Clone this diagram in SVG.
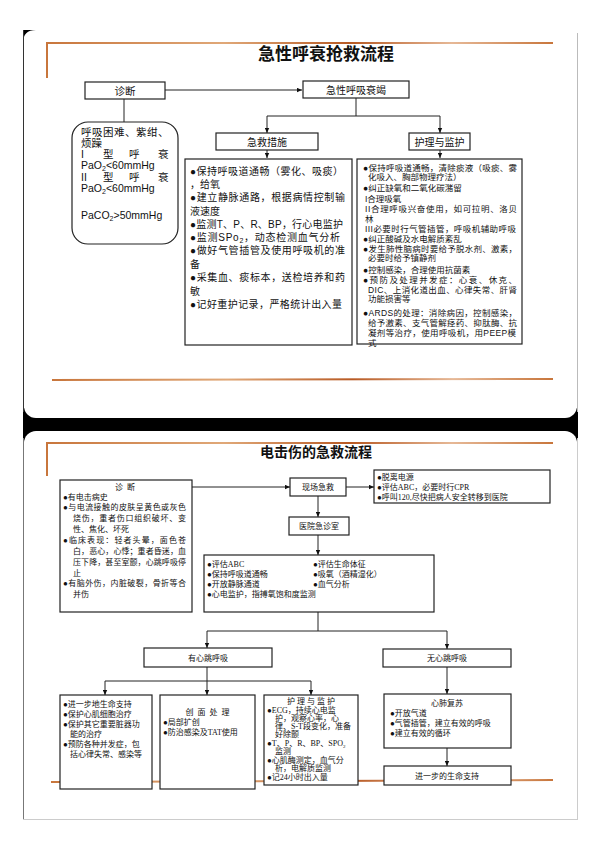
<svg xmlns="http://www.w3.org/2000/svg" width="595" height="841" viewBox="0 0 595 841">
<defs>
<style>
.box{fill:#fff;stroke:#222;stroke-width:1.2}
.t{font-family:"Liberation Sans","Noto Sans CJK SC",sans-serif;fill:#111}
.s{font-family:"Liberation Serif","Noto Sans CJK SC",serif;fill:#111;font-size:8px}
.c{stroke:#222;stroke-width:1;fill:none}
.a{stroke:#222;stroke-width:1;fill:none;marker-end:url(#ah)}
.or{stroke:url(#og);stroke-width:2;fill:none}
.ttl{font-family:"Noto Sans CJK SC",sans-serif;font-weight:700;fill:#111;text-anchor:middle}
.m{text-anchor:middle}
</style>
<marker id="ah" viewBox="0 0 8 8" refX="8" refY="4" markerWidth="5" markerHeight="5" orient="auto"><path d="M0,0.5 L8,4 L0,7.5 Z" fill="#111"/></marker>
<linearGradient id="og" x1="0" y1="0" x2="1" y2="0">
<stop offset="0" stop-color="#c8763c"/>
<stop offset="0.35" stop-color="#e0a878"/>
<stop offset="0.6" stop-color="#b85a24"/>
<stop offset="0.8" stop-color="#e6b896"/>
<stop offset="1" stop-color="#c8763c"/>
</linearGradient>
</defs>
<rect width="595" height="841" fill="#fff"/>
<g id="frame">
<path d="M23,30 H36 Q23,30 23,43 Z" fill="#000"/>
<rect x="23" y="408" width="555" height="34" fill="#000"/>
<rect x="24" y="300" width="553" height="118" rx="12" fill="#fff"/>
<rect x="24" y="431" width="553" height="120" rx="12" fill="#fff"/>
<line x1="23.5" y1="30" x2="23.5" y2="412" stroke="#333" stroke-width="1"/>
<line x1="577.5" y1="33" x2="577.5" y2="412" stroke="#bbb" stroke-width="1"/>
<line x1="23.5" y1="438" x2="23.5" y2="819" stroke="#777" stroke-width="1"/>
<line x1="577.5" y1="438" x2="577.5" y2="819" stroke="#ccc" stroke-width="1"/>
<line x1="23" y1="819.5" x2="578" y2="819.5" stroke="#ccc" stroke-width="1"/>
</g>
<g id="slide1-deco">
<path class="or" d="M47,78 V43 H553"/>
<line class="or" x1="52" y1="380" x2="553" y2="379"/>
<text class="ttl" x="326" y="60" font-size="17">急性呼衰抢救流程</text>
</g>
<g id="connectors1">
<line class="a" x1="165" y1="90" x2="302" y2="90"/>
<line class="c" x1="124" y1="99" x2="124" y2="123"/>
<line class="c" x1="356" y1="98" x2="356" y2="116"/>
<line class="c" x1="267" y1="116" x2="440" y2="116"/>
<line class="a" x1="267" y1="116" x2="267" y2="133"/>
<line class="a" x1="440" y1="116" x2="440" y2="133"/>
<line class="a" x1="267" y1="150" x2="267" y2="158"/>
<line class="a" x1="440" y1="150" x2="440" y2="158"/>
</g>
<g id="n-zhenduan1">
<rect class="box" x="85" y="82" width="80" height="17"/>
<text class="t m" x="125" y="94.5" font-size="10.5">诊断</text>
</g>
<g id="n-jixing">
<rect class="box" x="303" y="81" width="106" height="17"/>
<text class="t m" x="356" y="93.5" font-size="10">急性呼吸衰竭</text>
</g>
<g id="n-criteria">
<rect class="box" x="72" y="122" width="106" height="122" rx="16"/>
<g class="t" font-size="10.5">
<text x="81" y="136" letter-spacing="0.5">呼吸困难、紫绀、</text>
<text x="81" y="147">烦躁</text>
<text y="158"><tspan x="81">I</tspan><tspan x="103">型</tspan><tspan x="129">呼</tspan><tspan x="158">衰</tspan></text>
<text x="81" y="169">PaO<tspan font-size="7" dy="2">2</tspan><tspan dy="-2">&lt;60mmHg</tspan></text>
<text y="181"><tspan x="81">II</tspan><tspan x="103">型</tspan><tspan x="129">呼</tspan><tspan x="158">衰</tspan></text>
<text x="81" y="192">PaO<tspan font-size="7" dy="2">2</tspan><tspan dy="-2">&lt;60mmHg</tspan></text>
<text x="81" y="219">PaCO<tspan font-size="7" dy="2">2</tspan><tspan dy="-2">&gt;50mmHg</tspan></text>
</g>
</g>
<g id="n-jijiu">
<rect class="box" x="216" y="133" width="102" height="17"/>
<text class="t m" x="267" y="145.5" font-size="10">急救措施</text>
</g>
<g id="n-huli">
<rect class="box" x="409" y="133" width="61" height="17"/>
<text class="t m" x="439.5" y="145.5" font-size="10">护理与监护</text>
</g>
<g id="n-jijiu-detail">
<rect class="box" x="185" y="159" width="167" height="186"/>
<g class="t" font-size="10">
<text x="190" y="175" textLength="153" lengthAdjust="spacing">●保持呼吸道通畅（雾化、吸痰）</text>
<text x="190" y="188">，给氧</text>
<text x="190" y="201" textLength="155" lengthAdjust="spacing">●建立静脉通路，根据病情控制输</text>
<text x="190" y="215">液速度</text>
<text x="190" y="228" textLength="153" lengthAdjust="spacing">●监测T、P、R、BP，行心电监护</text>
<text x="190" y="241" textLength="150" lengthAdjust="spacing">●监测SPo<tspan font-size="7" dy="2">2</tspan><tspan dy="-2">，动态检测血气分析</tspan></text>
<text x="190" y="254" textLength="155" lengthAdjust="spacing">●做好气管插管及使用呼吸机的准</text>
<text x="190" y="268">备</text>
<text x="190" y="281" textLength="155" lengthAdjust="spacing">●采集血、痰标本，送检培养和药</text>
<text x="190" y="295">敏</text>
<text x="190" y="308" textLength="152" lengthAdjust="spacing">●记好重护记录，严格统计出入量</text>
</g>
</g>
<g id="n-huli-detail">
<rect class="box" x="357" y="159" width="165" height="185"/>
<g class="t" font-size="8.5">
<text x="363" y="171" textLength="154" lengthAdjust="spacing">●保持呼吸道通畅，清除痰液（吸痰、雾</text>
<text x="368" y="180">化吸入、胸部物理疗法）</text>
<text x="363" y="191">●纠正缺氧和二氧化碳潴留</text>
<text x="365" y="202">I合理吸氧</text>
<text x="365" y="212" textLength="152" lengthAdjust="spacing">II合理呼吸兴奋使用，如可拉明、洛贝</text>
<text x="365" y="222">林</text>
<text x="365" y="232" textLength="151" lengthAdjust="spacing">III必要时行气管插管，呼吸机辅助呼吸</text>
<text x="363" y="242">●纠正酸碱及水电解质紊乱</text>
<text x="363" y="252" textLength="154" lengthAdjust="spacing">●发生肺性脑病时要给予脱水剂、激素，</text>
<text x="368" y="261">必要时给予镇静剂</text>
<text x="363" y="273">●控制感染，合理使用抗菌素</text>
<text x="363" y="283" textLength="154" lengthAdjust="spacing">●预防及处理并发症：心衰、休克、</text>
<text x="368" y="293" textLength="149" lengthAdjust="spacing">DIC、上消化道出血、心律失常、肝肾</text>
<text x="368" y="302">功能损害等</text>
<text x="363" y="316" textLength="154" lengthAdjust="spacing">●ARDS的处理：消除病因，控制感染，</text>
<text x="368" y="326" textLength="149" lengthAdjust="spacing">给予激素、支气管解痉药、抑肽酶、抗</text>
<text x="368" y="336" textLength="148" lengthAdjust="spacing">凝剂等治疗，使用呼吸机，用PEEP模</text>
<text x="368" y="346">式</text>
</g>
</g>
<g id="slide2-deco">
<path class="or" d="M47,476 V443 H553"/>
<line class="or" x1="51" y1="782" x2="553" y2="780"/>
<text class="ttl" x="316" y="457" font-size="14">电击伤的急救流程</text>
</g>
<g id="connectors2">
<line class="a" x1="192" y1="487" x2="290" y2="487"/>
<line class="a" x1="346" y1="487" x2="374" y2="487"/>
<line class="a" x1="318" y1="496" x2="318" y2="517"/>
<line class="a" x1="318" y1="535" x2="318" y2="555"/>
<line class="c" x1="318" y1="612" x2="318" y2="631"/>
<line class="c" x1="207" y1="631" x2="447" y2="631"/>
<line class="a" x1="207" y1="631" x2="207" y2="648"/>
<line class="a" x1="447" y1="631" x2="447" y2="649"/>
<line class="c" x1="207" y1="667" x2="207" y2="681"/>
<line class="c" x1="105" y1="681" x2="311" y2="681"/>
<line class="a" x1="105" y1="681" x2="105" y2="695"/>
<line class="a" x1="207" y1="681" x2="207" y2="695"/>
<line class="a" x1="311" y1="681" x2="311" y2="695"/>
<line class="a" x1="447" y1="667" x2="447" y2="694"/>
<line class="a" x1="447" y1="748" x2="447" y2="766"/>
</g>
<g id="n-zhenduan2">
<rect class="box" x="60" y="480" width="132" height="132"/>
<text class="s m" x="125" y="490" xml:space="preserve">诊  断</text>
<text class="s" x="63" y="500">●有电击病史</text>
<text class="s" x="63" y="510" textLength="123" lengthAdjust="spacing">●与电流接触的皮肤呈黄色或灰色</text>
<text class="s" x="73" y="521" textLength="113" lengthAdjust="spacing">烧伤，重者伤口组织破坏、变</text>
<text class="s" x="73" y="532">性、焦化、坏死</text>
<text class="s" x="63" y="543" textLength="123" lengthAdjust="spacing">●临床表现：轻者头晕，面色苍</text>
<text class="s" x="73" y="554" textLength="113" lengthAdjust="spacing">白，恶心，心悸；重者昏迷，血</text>
<text class="s" x="73" y="565" textLength="113" lengthAdjust="spacing">压下降，甚至室颤，心跳呼吸停</text>
<text class="s" x="73" y="576">止</text>
<text class="s" x="63" y="586" textLength="123" lengthAdjust="spacing">●有脑外伤，内脏破裂，骨折等合</text>
<text class="s" x="73" y="597">并伤</text>
</g>
<g id="n-xianchang">
<rect class="box" x="290" y="478" width="56" height="18"/>
<text class="s m" x="318" y="490">现场急救</text>
</g>
<g id="n-xianchang-detail">
<rect class="box" x="374" y="470" width="176" height="33"/>
<text class="s" x="377" y="480">●脱离电源</text>
<text class="s" x="377" y="490">●评估ABC，必要时行CPR</text>
<text class="s" x="377" y="500">●呼叫120,尽快把病人安全转移到医院</text>
</g>
<g id="n-yiyuan">
<rect class="box" x="289" y="517" width="60" height="18"/>
<text class="s m" x="319" y="529">医院急诊室</text>
</g>
<g id="n-yiyuan-detail">
<rect class="box" x="204" y="555" width="230" height="57"/>
<text class="s" x="207" y="567">●评估ABC</text>
<text class="s" x="207" y="577">●保持呼吸道通畅</text>
<text class="s" x="207" y="587">●开放静脉通道</text>
<text class="s" x="207" y="597">●心电监护，指搏氧饱和度监测</text>
<text class="s" x="313" y="567">●评估生命体征</text>
<text class="s" x="313" y="577">●吸氧（酒精湿化）</text>
<text class="s" x="313" y="587">●血气分析</text>
</g>
<g id="n-youxintiao">
<rect class="box" x="144" y="648" width="128" height="19"/>
<text class="s m" x="208" y="661">有心跳呼吸</text>
</g>
<g id="n-wuxintiao">
<rect class="box" x="383" y="649" width="128" height="18"/>
<text class="s m" x="447" y="661">无心跳呼吸</text>
</g>
<g id="n-support">
<rect class="box" x="60" y="695" width="92" height="94"/>
<text class="s" x="63" y="707">●进一步地生命支持</text>
<text class="s" x="63" y="717">●保护心肌细胞治疗</text>
<text class="s" x="63" y="727">●保护其它重要脏器功</text>
<text class="s" x="70" y="737">能的治疗</text>
<text class="s" x="63" y="747">●预防各种并发症，包</text>
<text class="s" x="70" y="757">括心律失常、感染等</text>
</g>
<g id="n-wound">
<rect class="box" x="160" y="695" width="95" height="94"/>
<text class="s m" x="207.5" y="715" xml:space="preserve">创  面  处  理</text>
<text class="s" x="163" y="725">●局部扩创</text>
<text class="s" x="163" y="735">●防治感染及TAT使用</text>
</g>
<g id="n-monitor">
<rect class="box" x="264" y="695" width="94" height="90"/>
<g font-size="7.5">
<text class="s m" x="311" y="704" font-size="7.5" xml:space="preserve">护 理 与 监 护</text>
<text class="s" x="267" y="713" font-size="7.5">●ECG，持续心电监</text>
<text class="s" x="275" y="721" font-size="7.5">护，观察心率，心</text>
<text class="s" x="275" y="729" font-size="7.5">律、S-T段变化，准备</text>
<text class="s" x="275" y="737" font-size="7.5">好除颤</text>
<text class="s" x="267" y="746" font-size="7.5">●T、P、R、BP、SPO<tspan font-size="5" dy="1.5">2</tspan></text>
<text class="s" x="275" y="754" font-size="7.5">监测</text>
<text class="s" x="267" y="763" font-size="7.5">●心肌酶测定，血气分</text>
<text class="s" x="275" y="771" font-size="7.5">析，电解质监测</text>
<text class="s" x="267" y="780" font-size="7.5">●记24小时出入量</text>
</g>
</g>
<g id="n-cpr">
<rect class="box" x="384" y="694" width="127" height="54"/>
<text class="s m" x="447" y="706">心肺复苏</text>
<text class="s" x="390" y="716">●开放气道</text>
<text class="s" x="390" y="726">●气管插管，建立有效的呼吸</text>
<text class="s" x="390" y="736">●建立有效的循环</text>
</g>
<g id="n-further">
<rect class="box" x="384" y="766" width="127" height="19"/>
<text class="s m" x="447" y="779">进一步的生命支持</text>
</g>
</svg>
